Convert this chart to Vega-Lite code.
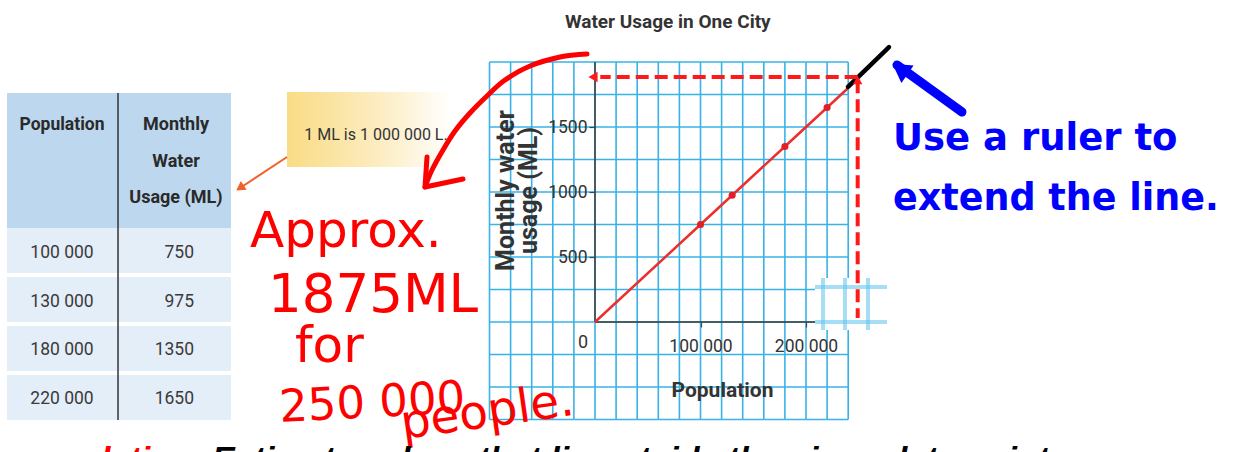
{
"$schema":"https://vega.github.io/schema/vega-lite/v6.json",
"width":1234,"height":452,"autosize":{"type":"none"},"padding":0,"background":"#ffffff",
"config":{"view":{"stroke":null}},
"datasets":{
 "water":[{"pop":100000,"ml":750,"population":"100 000"},{"pop":130000,"ml":975,"population":"130 000"},{"pop":180000,"ml":1350,"population":"180 000"},{"pop":220000,"ml":1650,"population":"220 000"}],
 "trend":[{"pop":0,"ml":0},{"pop":100000,"ml":750},{"pop":130000,"ml":975},{"pop":180000,"ml":1350},{"pop":220000,"ml":1650},{"pop":240000,"ml":1800}],
 "vgrid":[{"pop":-100000},{"pop":-80000},{"pop":-60000},{"pop":-40000},{"pop":-20000},{"pop":0},{"pop":20000},{"pop":40000},{"pop":60000},{"pop":80000},{"pop":100000},{"pop":120000},{"pop":140000},{"pop":160000},{"pop":180000},{"pop":200000},{"pop":220000},{"pop":240000}],
 "hgrid":[{"ml":-750},{"ml":-500},{"ml":-250},{"ml":0},{"ml":250},{"ml":500},{"ml":750},{"ml":1000},{"ml":1250},{"ml":1500},{"ml":1750},{"ml":2000}],
 "patchV":[{"pop":216114},{"pop":236967},{"pop":258768}],
 "patchH":[{"ml":0},{"ml":269}],
 "ruler":[{"pop":239810,"ml":1808},{"pop":278673,"ml":2115}],
 "curve":[{"ord":1,"pop":-7583,"ml":2061.5},{"ord":2,"pop":-33175,"ml":2038.5},{"ord":3,"pop":-61611,"ml":1969.2},{"ord":4,"pop":-85308,"ml":1861.5},{"ord":5,"pop":-101422,"ml":1746.2},{"ord":6,"pop":-118483,"ml":1607.7},{"ord":7,"pop":-132701,"ml":1469.2},{"ord":8,"pop":-144076,"ml":1323.1},{"ord":9,"pop":-154502,"ml":1169.2},{"ord":10,"pop":-161137,"ml":1038.5}],
 "curveHead":[{"ord":1,"pop":-159242,"ml":1269.2},{"ord":2,"pop":-161137,"ml":1038.5},{"ord":3,"pop":-125118,"ml":1100}],
 "blueShaft":[{"pop":347867,"ml":1615.4},{"pop":286256,"ml":1976.9}],
 "orangeShaft":[{"pop":-291943,"ml":1269.2},{"pop":-333649,"ml":1046.2}]
},
"resolve":{"scale":{"y":"independent"}},
"layer":[
 {
  "data":{"name":"water"},
  "encoding":{"y":{"field":"pop","type":"ordinal","scale":{"type":"band","range":[228,420],"paddingInner":0.08,"paddingOuter":0},"axis":null}},
  "layer":[
   {"mark":{"type":"rect","fill":"#e4eef8"},"encoding":{"x":{"datum":-557346,"type":"quantitative"},"x2":{"datum":-345024}}},
   {"mark":{"type":"text","font":"Roboto","fontSize":17.5,"color":"#3a3a3a","align":"center","baseline":"middle","dy":2},"encoding":{"x":{"datum":-505213,"type":"quantitative"},"text":{"field":"population","type":"nominal"}}},
   {"mark":{"type":"text","font":"Roboto","fontSize":17.5,"color":"#3a3a3a","align":"right","baseline":"middle","dy":2},"encoding":{"x":{"datum":-380095,"type":"quantitative"},"text":{"field":"ml","type":"nominal"}}}
  ]
 },
 {
  "layer":[
   {"data":{"values":[{}]},"mark":{"type":"rect","fill":"#bdd7ee"},"encoding":{"x":{"datum":-557346,"type":"quantitative"},"x2":{"datum":-345024},"y":{"datum":1761.5,"type":"quantitative"},"y2":{"datum":723.1}}},
   {"data":{"name":"vgrid"},"mark":{"type":"rule","color":"#39b3e6","strokeWidth":1.6},"encoding":{"x":{"field":"pop","type":"quantitative","scale":{"domain":[-564000,605700],"nice":false,"zero":false}},"y":{"datum":-750,"type":"quantitative","scale":{"domain":[-1000,2477],"nice":false,"zero":false}},"y2":{"datum":2000}}},
   {"data":{"name":"hgrid"},"mark":{"type":"rule","color":"#39b3e6","strokeWidth":1.6},"encoding":{"y":{"field":"ml","type":"quantitative"},"x":{"datum":-100000,"type":"quantitative"},"x2":{"datum":240000}}},
   {"data":{"values":[{}]},"mark":{"type":"rule","color":"#3a3a3a","strokeWidth":1.5},"encoding":{"x":{"datum":0,"type":"quantitative"},"y":{"datum":0,"type":"quantitative"},"y2":{"datum":2000}}},
   {"data":{"values":[{}]},"mark":{"type":"rule","color":"#3a3a3a","strokeWidth":1.5},"encoding":{"y":{"datum":0,"type":"quantitative"},"x":{"datum":0,"type":"quantitative"},"x2":{"datum":240000}}},
   {"data":{"values":[{}]},"mark":{"type":"rect","fill":"#ffffff"},"encoding":{"x":{"datum":208531,"type":"quantitative"},"x2":{"datum":276777},"y":{"datum":338.5,"type":"quantitative"},"y2":{"datum":-61.5}}},
   {"data":{"name":"patchH"},"mark":{"type":"rule","color":"#5cc3ef","strokeWidth":4,"opacity":0.55},"encoding":{"y":{"field":"ml","type":"quantitative"},"x":{"datum":208531,"type":"quantitative"},"x2":{"datum":276777}}},
   {"data":{"name":"patchV"},"mark":{"type":"rule","color":"#5cc3ef","strokeWidth":4,"opacity":0.55},"encoding":{"x":{"field":"pop","type":"quantitative"},"y":{"datum":-61.5,"type":"quantitative"},"y2":{"datum":338.5}}},
   {"data":{"name":"trend"},"mark":{"type":"line","color":"#ee2d2d","strokeWidth":2.5},"encoding":{
     "x":{"field":"pop","type":"quantitative","scale":{"domain":[-564000,605700],"nice":false,"zero":false},"axis":{"orient":"bottom","offset":-130,"values":[100000,200000],"format":",d","labelExpr":"replace(datum.label, ',', ' ')","domain":false,"grid":false,"tickSize":5,"tickColor":"#444444","tickWidth":1.2,"labelFont":"Roboto","labelFontSize":17.5,"labelColor":"#333333","labelPadding":10,"labelFlush":false,"labelOverlap":false,"title":"Population","titleFont":"Roboto","titleFontSize":21,"titleFontWeight":"bold","titleColor":"#333333","titleX":722,"titleY":57,"zindex":1}},
     "y":{"field":"ml","type":"quantitative","scale":{"domain":[-1000,2477],"nice":false,"zero":false},"axis":{"orient":"left","offset":-595,"values":[500,1000,1500],"format":"d","domain":false,"grid":false,"tickSize":6,"tickColor":"#444444","tickWidth":1.2,"labelFont":"Roboto","labelFontSize":17.5,"labelColor":"#333333","labelPadding":2,"title":["Monthly water","usage (ML)"],"titleFont":"Roboto","titleFontSize":25,"titleFontWeight":"bold","titleColor":"#333333","titleAngle":-90,"titleX":-90,"titleY":190,"titleAlign":"center","titleBaseline":"middle","titleLineHeight":23,"zindex":1}}}},
   {"data":{"name":"water"},"mark":{"type":"point","filled":true,"shape":"circle","size":50,"color":"#e01f26","opacity":1},"encoding":{"x":{"field":"pop","type":"quantitative"},"y":{"field":"ml","type":"quantitative"}}},
   {"data":{"name":"ruler"},"mark":{"type":"line","color":"#000000","strokeWidth":4.5,"strokeCap":"round"},"encoding":{"x":{"field":"pop","type":"quantitative"},"y":{"field":"ml","type":"quantitative"}}},
   {"data":{"values":[{}]},"mark":{"type":"rule","color":"#ff1a1a","strokeWidth":4,"strokeDash":[13,6]},"encoding":{"y":{"datum":1885,"type":"quantitative"},"x":{"datum":249000,"type":"quantitative"},"x2":{"datum":5000}}},
   {"data":{"values":[{}]},"mark":{"type":"rule","color":"#ff1a1a","strokeWidth":4,"strokeDash":[13,6]},"encoding":{"x":{"datum":249000,"type":"quantitative"},"y":{"datum":1860,"type":"quantitative"},"y2":{"datum":30}}},
   {"data":{"values":[{}]},"mark":{"type":"point","filled":true,"shape":"triangle-left","size":110,"color":"#ff1a1a","opacity":1},"encoding":{"x":{"datum":-1896,"type":"quantitative"},"y":{"datum":1885,"type":"quantitative"}}},
   {"data":{"values":[{}]},"mark":{"type":"point","filled":true,"shape":"triangle-up","size":90,"color":"#ff1a1a","opacity":1},"encoding":{"x":{"datum":249000,"type":"quantitative"},"y":{"datum":1861,"type":"quantitative"}}},
   {"data":{"values":[{}]},"mark":{"type":"rule","color":"#333333","strokeWidth":1.5},"encoding":{"x":{"datum":-452133,"type":"quantitative"},"y":{"datum":1761.5,"type":"quantitative"},"y2":{"datum":-753.8}}},
   {"data":{"values":[{}]},"mark":{"type":"rect","fill":{"gradient":"linear","x1":0,"x2":1,"y1":0,"y2":0,"stops":[{"offset":0,"color":"#f9dc85"},{"offset":0.55,"color":"#fcecc0"},{"offset":1,"color":"#ffffff"}]}},"encoding":{"x":{"datum":-291943,"type":"quantitative"},"x2":{"datum":-135545},"y":{"datum":1769.2,"type":"quantitative"},"y2":{"datum":1192.3}}},
   {"data":{"values":[{}]},"mark":{"type":"text","text":"1 ML is 1 000 000 L.","font":"Roboto","fontSize":16,"color":"#333333","align":"center","baseline":"alphabetic"},"encoding":{"x":{"datum":-207583,"type":"quantitative"},"y":{"datum":1400,"type":"quantitative"}}},
   {"data":{"name":"orangeShaft"},"mark":{"type":"line","color":"#f0622d","strokeWidth":2},"encoding":{"x":{"field":"pop","type":"quantitative"},"y":{"field":"ml","type":"quantitative"}}},
   {"data":{"values":[{}]},"mark":{"type":"point","filled":true,"shape":"triangle-up","size":110,"angle":236,"color":"#f0622d","opacity":1},"encoding":{"x":{"datum":-336493,"type":"quantitative"},"y":{"datum":1030.8,"type":"quantitative"}}},
   {"data":{"name":"curve"},"mark":{"type":"line","color":"#ff0000","strokeWidth":5,"strokeCap":"round","interpolate":"cardinal"},"encoding":{"x":{"field":"pop","type":"quantitative"},"y":{"field":"ml","type":"quantitative"},"order":{"field":"ord","type":"quantitative"}}},
   {"data":{"name":"curveHead"},"mark":{"type":"line","color":"#ff0000","strokeWidth":5,"strokeCap":"round","strokeJoin":"round"},"encoding":{"x":{"field":"pop","type":"quantitative"},"y":{"field":"ml","type":"quantitative"},"order":{"field":"ord","type":"quantitative"}}},
   {"data":{"name":"blueShaft"},"mark":{"type":"line","color":"#0000ff","strokeWidth":9,"strokeCap":"round"},"encoding":{"x":{"field":"pop","type":"quantitative"},"y":{"field":"ml","type":"quantitative"}}},
   {"data":{"values":[{}]},"mark":{"type":"point","filled":true,"shape":"triangle-up","size":450,"angle":305,"color":"#0000ff","opacity":1},"encoding":{"x":{"datum":289099,"type":"quantitative"},"y":{"datum":1946.2,"type":"quantitative"}}},
   {"data":{"values":[{}]},"mark":{"type":"text","text":"Water Usage in One City","font":"Roboto","fontSize":19,"fontWeight":"bold","color":"#333333","align":"center","baseline":"alphabetic"},"encoding":{"x":{"datum":69000,"type":"quantitative"},"y":{"datum":2261.5,"type":"quantitative"}}},
   {"data":{"values":[{}]},"mark":{"type":"text","text":"0","font":"Roboto","fontSize":18,"color":"#333333","align":"center","baseline":"middle"},"encoding":{"x":{"datum":-11374,"type":"quantitative"},"y":{"datum":-161.5,"type":"quantitative"}}},
   {"data":{"values":[{}]},"mark":{"type":"text","text":"Population","font":"Roboto","fontSize":17.5,"fontWeight":"bold","color":"#2a2a2a","align":"center","baseline":"alphabetic"},"encoding":{"x":{"datum":-505213,"type":"quantitative"},"y":{"datum":1476.9,"type":"quantitative"}}},
   {"data":{"values":[{}]},"mark":{"type":"text","text":["Monthly","Water","Usage (ML)"],"lineHeight":36.5,"font":"Roboto","fontSize":18,"fontWeight":"bold","color":"#2a2a2a","align":"center","baseline":"alphabetic"},"encoding":{"x":{"datum":-397156,"type":"quantitative"},"y":{"datum":1476.9,"type":"quantitative"}}},
   {"data":{"values":[{}]},"mark":{"type":"text","text":"Approx.","font":"DejaVu Sans","fontSize":50,"color":"#ff0000","align":"left","baseline":"alphabetic"},"encoding":{"x":{"datum":-327014,"type":"quantitative"},"y":{"datum":576.9,"type":"quantitative"}}},
   {"data":{"values":[{}]},"mark":{"type":"text","text":"1875ML","font":"DejaVu Sans","fontSize":53,"color":"#ff0000","align":"left","baseline":"alphabetic"},"encoding":{"x":{"datum":-309952,"type":"quantitative"},"y":{"datum":76.9,"type":"quantitative"}}},
   {"data":{"values":[{}]},"mark":{"type":"text","text":"for","font":"DejaVu Sans","fontSize":50,"color":"#ff0000","align":"left","baseline":"alphabetic"},"encoding":{"x":{"datum":-284360,"type":"quantitative"},"y":{"datum":-307.7,"type":"quantitative"}}},
   {"data":{"values":[{}]},"mark":{"type":"text","text":"250 000","font":"DejaVu Sans","fontSize":45,"angle":-3,"color":"#ff0000","align":"left","baseline":"alphabetic"},"encoding":{"x":{"datum":-298578,"type":"quantitative"},"y":{"datum":-769.2,"type":"quantitative"}}},
   {"data":{"values":[{}]},"mark":{"type":"text","text":"people.","font":"DejaVu Sans","fontSize":47,"angle":-8,"color":"#ff0000","align":"left","baseline":"alphabetic"},"encoding":{"x":{"datum":-181990,"type":"quantitative"},"y":{"datum":-900,"type":"quantitative"}}},
   {"data":{"values":[{}]},"mark":{"type":"text","text":"Use a ruler to","font":"DejaVu Sans","fontSize":37,"fontWeight":"bold","color":"#0000ff","align":"left","baseline":"alphabetic"},"encoding":{"x":{"datum":282464,"type":"quantitative"},"y":{"datum":1323.1,"type":"quantitative"}}},
   {"data":{"values":[{}]},"mark":{"type":"text","text":"extend the line.","font":"DejaVu Sans","fontSize":36.5,"fontWeight":"bold","color":"#0000ff","align":"left","baseline":"alphabetic"},"encoding":{"x":{"datum":282464,"type":"quantitative"},"y":{"datum":861.5,"type":"quantitative"}}},
   {"data":{"values":[{}]},"mark":{"type":"text","text":"lation:","font":"Liberation Sans","fontSize":34,"fontWeight":"bold","fontStyle":"italic","color":"#ff0000","align":"right","baseline":"alphabetic"},"encoding":{"x":{"datum":-371564,"type":"quantitative"},"y":{"datum":-1138.5,"type":"quantitative"}}},
   {"data":{"values":[{}]},"mark":{"type":"text","text":"Estimate values that lie outside the given data points.","font":"Liberation Sans","fontSize":34,"fontWeight":"bold","fontStyle":"italic","color":"#000000","align":"left","baseline":"alphabetic"},"encoding":{"x":{"datum":-363033,"type":"quantitative"},"y":{"datum":-1138.5,"type":"quantitative"}}}
  ]
 }
]
}
